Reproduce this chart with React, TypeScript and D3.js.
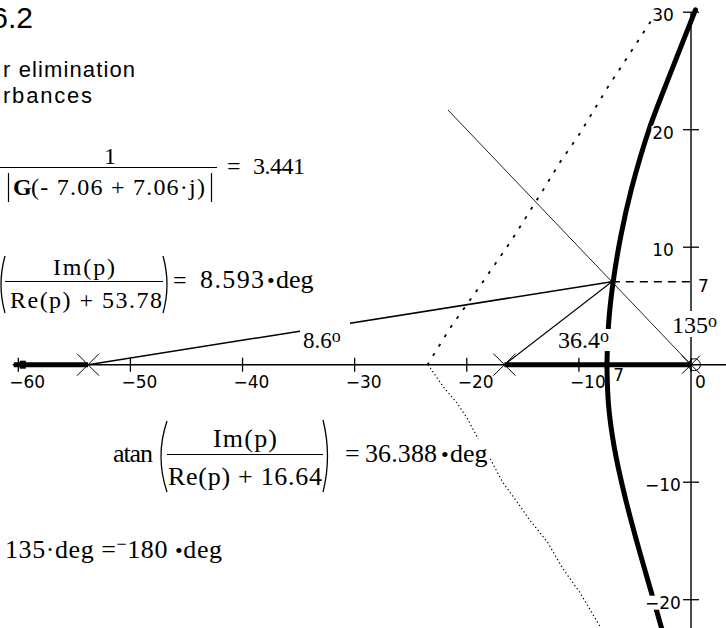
import React from "react";
import * as d3 from "d3";

const WIDTH = 726;
const HEIGHT = 628;

const SERIF = "'Liberation Serif', 'Times New Roman', serif";
const SANS = "'Liberation Sans', Arial, sans-serif";
const TICKFONT = "'DejaVu Sans', sans-serif";

// Axis ticks
const xTickValues = [-60, -50, -40, -30, -20, -10, 0];
const yTickValues = [30, 20, 10, -10, -20];

// Open-loop poles on the real axis
const poleRe = [-53.78, -16.64, 0];

// Test point p = -7.06 + 7.06j
const pRe = -7.06;
const pIm = 7.06;

// Angles from each pole to p, in degrees
const angleLabels = ["8.6", "36.4", "135"];

// Real-axis segments of the locus
const axisSegStart = [-60.4, -16.64];
const axisSegEnd = [-53.78, 0];

// Complex branches of the root locus
const locusUpperRe = [0.4, -1.75, -3.75, -5.3, -6.25, -6.95, -7.35, -7.5];
const locusUpperIm = [30.2, 25, 20, 15, 11, 7, 3.5, 0];
const locusLowerRe = [-7.5, -7.35, -6.85, -5.95, -4.85, -3.65, -2.6];
const locusLowerIm = [0, -3.5, -7, -11, -15, -19, -22.5];

// Second trace (dotted)
const dotUpperRe = [-3.6, -7.5, -9.9, -11.7, -13.3, -16.0, -18.6, -21.5, -23.5];
const dotUpperIm = [29.2, 23.5, 19.7, 17.2, 14.7, 10.6, 7.0, 3.1, 0];
const dotLowerRe = [-23.46, -22.1, -20.9, -20.0, -19.1, -17.75, -16.8, -15.5, -14.4, -12.8, -11.4, -9.9, -8.1];
const dotLowerIm = [0, -1.87, -3.23, -4.5, -6.1, -8.3, -10.0, -11.7, -13.2, -15.1, -17.4, -19.4, -22.3];

// The 135° ray is drawn from the origin through p and beyond
const rayScale = 3.07;

const fmt = (v: number) => (v < 0 ? "\u2212" + Math.abs(v) : String(v));

function paren(x0: number, yTop: number, yBot: number, bulge: number) {
  const ym = (yTop + yBot) / 2;
  return `M${x0},${yTop} Q${x0 + 2 * bulge},${ym} ${x0},${yBot}`;
}

export default function App() {
  const x = d3.scaleLinear().domain([-60, 0]).range([18.3, 691]);
  const y = d3.scaleLinear().domain([0, 30]).range([364.7, 12.2]);

  const straight = d3
    .line<[number, number]>()
    .x((d) => x(d[0]))
    .y((d) => y(d[1]));
  const smooth = d3
    .line<[number, number]>()
    .x((d) => x(d[0]))
    .y((d) => y(d[1]))
    .curve(d3.curveCatmullRom.alpha(0.5));

  const zip = (a: number[], b: number[]) => d3.zip(a, b) as [number, number][];

  const x0 = x(0);
  const y0 = y(0);
  const px = x(pRe);
  const py = y(pIm);

  const cross = (cx: number, cy: number, r: number, key: string) => (
    <path
      key={key}
      d={`M${cx - r},${cy - r}L${cx + r},${cy + r}M${cx - r},${cy + r}L${cx + r},${cy - r}`}
      stroke="#000"
      strokeWidth={1}
      fill="none"
    />
  );

  return (
    <svg
      width={WIDTH}
      height={HEIGHT}
      style={{ position: "fixed", left: 0, top: 0, background: "#fff" }}
    >
      <rect width={WIDTH} height={HEIGHT} fill="#fff" />

      {/* axes */}
      <line x1={x(-60.5)} x2={WIDTH} y1={y0} y2={y0} stroke="#000" strokeWidth={1.4} />
      <line x1={x0} x2={x0} y1={y(30)} y2={HEIGHT} stroke="#000" strokeWidth={1.4} />
      {xTickValues.map((v) => (
        <line key={"xt" + v} x1={x(v)} x2={x(v)} y1={y0 - 7} y2={y0 + 7} stroke="#000" strokeWidth={1.3} />
      ))}
      {yTickValues.map((v) => (
        <line key={"yt" + v} x1={x0 - 8} x2={x0 + 8} y1={y(v)} y2={y(v)} stroke="#000" strokeWidth={1.3} />
      ))}

      {/* dotted trace */}
      <path d={straight(zip(dotUpperRe, dotUpperIm)) || ""} fill="none" stroke="#000" strokeWidth={1.8} strokeDasharray="3,8" />
      <path d={straight(zip(dotLowerRe, dotLowerIm)) || ""} fill="none" stroke="#000" strokeWidth={1.2} strokeDasharray="1.3,2.6" />

      {/* angle construction lines from the poles to p */}
      <path d={straight([[poleRe[0], 0], [pRe, pIm]]) || ""} stroke="#000" strokeWidth={1.5} fill="none" />
      <path d={straight([[poleRe[1], 0], [pRe, pIm]]) || ""} stroke="#000" strokeWidth={1.1} fill="none" />
      <path d={straight([[0, 0], [pRe * rayScale, pIm * rayScale]]) || ""} stroke="#222" strokeWidth={1} fill="none" />
      <path d={straight([[pRe, pIm], [0, pIm]]) || ""} stroke="#000" strokeWidth={1.3} strokeDasharray="8,6" fill="none" />

      {/* root locus */}
      {axisSegStart.map((s, i) => (
        <path key={"seg" + i} d={straight([[s, 0], [axisSegEnd[i], 0]]) || ""} stroke="#000" strokeWidth={5} fill="none" />
      ))}
      <rect x={x(-59.6) - 3} y={y0 - 4} width={6} height={8} fill="#000" />
      <path d={smooth(zip(locusUpperRe, locusUpperIm)) || ""} stroke="#000" strokeWidth={5} fill="none" strokeLinecap="round" />
      <path d={smooth(zip(locusLowerRe, locusLowerIm)) || ""} stroke="#000" strokeWidth={5} fill="none" />

      {/* poles */}
      {poleRe.map((r, i) => cross(x(r), y0, i === 2 ? 9 : 11, "p" + i))}
      <circle cx={x(0.3)} cy={y0} r={6} fill="none" stroke="#000" strokeWidth={1} />

      {/* tick labels */}
      {xTickValues.map((v) => (
        <text
          key={"xl" + v}
          x={v === 0 ? x0 + 4 : x(v) - 9}
          y={y0 + 23}
          fontFamily={TICKFONT}
          fontSize={17}
          fill="#000"
        >
          {fmt(v)}
        </text>
      ))}
      {yTickValues.map((v) => {
        const w = fmt(v).length * 10.5 + 2;
        return (
          <g key={"yl" + v}>
            <rect x={x0 - 28 - w / 2} y={y(v) - 4} width={w} height={14} fill="#fff" />
            <text x={x0 - 28} y={y(v) + 9} textAnchor="middle" fontFamily={TICKFONT} fontSize={17} fill="#000">
              {fmt(v)}
            </text>
          </g>
        );
      })}
      <text x={x0 + 7} y={py + 10} fontFamily={TICKFONT} fontSize={17} fill="#000">
        {Math.round(pIm)}
      </text>
      <text x={px + 1.5} y={y0 + 16} fontFamily={TICKFONT} fontSize={17} fill="#000">
        {Math.round(Math.abs(pRe))}
      </text>

      {/* angle labels */}
      <rect x={300} y={322} width={50} height={30} fill="#fff" />
      <text x={303} y={348} fontFamily={SERIF} fontSize={23} fill="#000">
        {angleLabels[0]}
        <tspan fontSize={18} dy={-6}>o</tspan>
      </text>
      <rect x={556} y={329} width={63} height={22} fill="#fff" />
      <text x={558} y={348} fontFamily={SERIF} fontSize={24} fill="#000">
        {angleLabels[1]}
        <tspan fontSize={18} dy={-6}>o</tspan>
      </text>
      <rect x={670} y={311} width={52} height={26} fill="#fff" />
      <text x={672} y={333} fontFamily={SERIF} fontSize={24} fill="#000">
        {angleLabels[2]}
        <tspan fontSize={18} dy={-6}>o</tspan>
      </text>

      {/* heading */}
      <text x={33} y={28} textAnchor="end" fontFamily={SANS} fontSize={30} fill="#000">
        6.2
      </text>
      <text x={3} y={77} fontFamily={SANS} fontSize={22} textLength={132} lengthAdjust="spacing" fill="#000">
        r elimination
      </text>
      <text x={3} y={103} fontFamily={SANS} fontSize={22} textLength={89} lengthAdjust="spacing" fill="#000">
        rbances
      </text>

      {/* 1 / |G(p)| */}
      <g fontFamily={SERIF} fill="#000">
        <text x={110} y={164} textAnchor="middle" fontSize={24}>1</text>
        <line x1={0} x2={217} y1={167.5} y2={167.5} stroke="#000" strokeWidth={1} />
        <line x1={8.5} x2={8.5} y1={173} y2={202} stroke="#000" strokeWidth={1.2} />
        <line x1={211.5} x2={211.5} y1={173} y2={202} stroke="#000" strokeWidth={1.2} />
        <text x={13} y={195} fontSize={24} fontWeight="bold">G</text>
        <text x={31} y={195} fontSize={24} textLength={174} lengthAdjust="spacing">(- 7.06 + 7.06·j)</text>
        <text x={227} y={174} fontSize={24}>=</text>
        <text x={253} y={174} fontSize={24} textLength={52} lengthAdjust="spacing">3.441</text>
      </g>

      {/* atan(Im(p)/(Re(p)+53.78)) */}
      <g fontFamily={SERIF} fill="#000">
        <path d={paren(5, 256, 313, -4)} stroke="#000" strokeWidth={1.3} fill="none" />
        <text x={53} y={275} fontSize={24} textLength={62} lengthAdjust="spacing">Im(p)</text>
        <line x1={5} x2={163} y1={281.5} y2={281.5} stroke="#000" strokeWidth={1} />
        <text x={10} y={308} fontSize={24} textLength={152} lengthAdjust="spacing">Re(p) + 53.78</text>
        <path d={paren(163, 256, 313, 4)} stroke="#000" strokeWidth={1.3} fill="none" />
        <text x={173} y={288} fontSize={24}>=</text>
        <text x={200} y={288} fontSize={26} textLength={64} lengthAdjust="spacing">8.593</text>
        <text x={267} y={288} fontSize={22}>•</text>
        <text x={276} y={288} fontSize={26}>deg</text>
      </g>

      {/* atan(Im(p)/(Re(p)+16.64)) */}
      <rect x={342} y={439} width={148} height={31} fill="#fff" />
      <g fontFamily={SERIF} fill="#000">
        <text x={113} y={462} fontSize={26} textLength={40} lengthAdjust="spacing">atan</text>
        <path d={paren(167, 421, 492, -6)} stroke="#000" strokeWidth={1.3} fill="none" />
        <text x={213} y={447} fontSize={26} textLength={64} lengthAdjust="spacing">Im(p)</text>
        <line x1={167} x2={323} y1={454.5} y2={454.5} stroke="#000" strokeWidth={1} />
        <text x={168} y={485} fontSize={26} textLength={154} lengthAdjust="spacing">Re(p) + 16.64</text>
        <path d={paren(323, 420, 492, 4.5)} stroke="#000" strokeWidth={1.3} fill="none" />
        <text x={345} y={462} fontSize={26}>=</text>
        <text x={365} y={462} fontSize={26} textLength={72} lengthAdjust="spacing">36.388</text>
        <text x={441} y={462} fontSize={22}>•</text>
        <text x={450} y={462} fontSize={26}>deg</text>
      </g>

      {/* angle condition */}
      <g fontFamily={SERIF} fill="#000">
        <text x={5} y={558} fontSize={26} textLength={217} lengthAdjust="spacing">
          135·deg =<tspan fontSize={18} dy={-8}>{"\u2212"}</tspan>
          <tspan dy={8}>180 </tspan>
          <tspan fontSize={22}>•</tspan>deg
        </text>
      </g>
    </svg>
  );
}
